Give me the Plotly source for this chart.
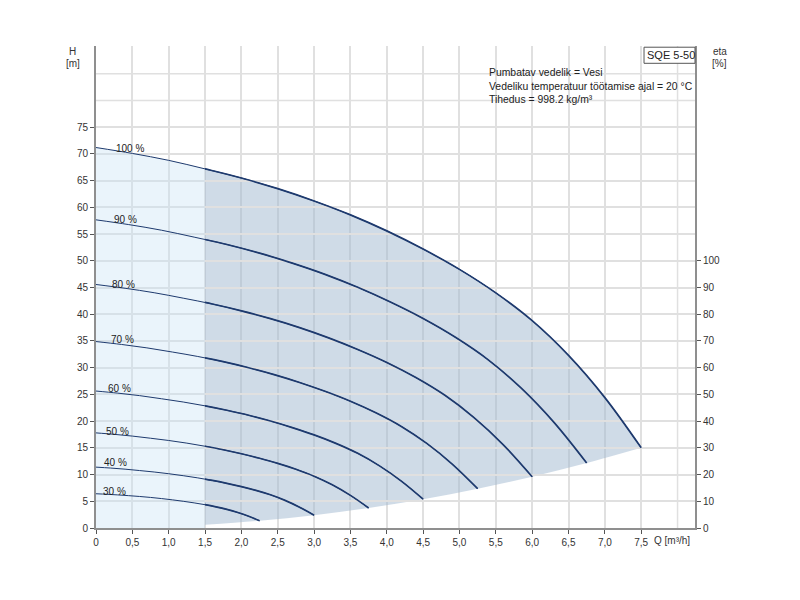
import plotly.graph_objects as go

# ---------------- data ----------------
q100 = [0, 0.5, 1.0, 1.5, 2.0, 2.5, 3.0, 3.5, 4.0, 4.5, 5.0, 5.5, 6.0, 6.5, 7.0, 7.5]
h100 = [71.2, 70.1, 68.8, 67.2, 65.5, 63.5, 61.2, 58.6, 55.6, 52.2, 48.4, 44.0, 38.8, 32.3, 24.4, 15.0]

q90 = [0, 0.45, 0.9, 1.35, 1.8, 2.25, 2.7, 3.15, 3.6, 4.05, 4.5, 4.95, 5.4, 5.85, 6.3, 6.75]
h90 = [57.67, 56.78, 55.73, 54.43, 53.06, 51.44, 49.57, 47.47, 45.04, 42.28, 39.20, 35.64, 31.43, 26.16, 19.76, 12.15]

q80 = [0, 0.4, 0.8, 1.2, 1.6, 2.0, 2.4, 2.8, 3.2, 3.6, 4.0, 4.4, 4.8, 5.2, 5.6, 6.0]
h80 = [45.57, 44.86, 44.03, 43.01, 41.92, 40.64, 39.17, 37.50, 35.58, 33.41, 30.98, 28.16, 24.83, 20.67, 15.62, 9.60]

q70 = [0, 0.35, 0.7, 1.05, 1.4, 1.75, 2.1, 2.45, 2.8, 3.15, 3.5, 3.85, 4.2, 4.55, 4.9, 5.25]
h70 = [34.89, 34.35, 33.71, 32.93, 32.10, 31.12, 29.99, 28.71, 27.24, 25.58, 23.72, 21.56, 19.01, 15.83, 11.96, 7.35]

q60 = [0, 0.3, 0.6, 0.9, 1.2, 1.5, 1.8, 2.1, 2.4, 2.7, 3.0, 3.3, 3.6, 3.9, 4.2, 4.5]
h60 = [25.63, 25.24, 24.77, 24.19, 23.58, 22.86, 22.03, 21.10, 20.02, 18.79, 17.42, 15.84, 13.97, 11.63, 8.78, 5.40]

q50 = [0, 0.25, 0.5, 0.75, 1.0, 1.25, 1.5, 1.75, 2.0, 2.25, 2.5, 2.75, 3.0, 3.25, 3.5, 3.75]
h50 = [17.80, 17.53, 17.20, 16.80, 16.38, 15.88, 15.30, 14.65, 13.90, 13.05, 12.10, 11.00, 9.70, 8.08, 6.10, 3.75]

q40 = [0, 0.2, 0.4, 0.6, 0.8, 1.0, 1.2, 1.4, 1.6, 1.8, 2.0, 2.2, 2.4, 2.6, 2.8, 3.0]
h40 = [11.39, 11.22, 11.01, 10.75, 10.48, 10.16, 9.79, 9.38, 8.90, 8.35, 7.74, 7.04, 6.21, 5.17, 3.90, 2.40]

q30 = [0, 0.15, 0.3, 0.45, 0.6, 0.75, 0.9, 1.05, 1.2, 1.35, 1.5, 1.65, 1.8, 1.95, 2.1, 2.25]
h30 = [6.41, 6.31, 6.19, 6.05, 5.90, 5.72, 5.51, 5.27, 5.00, 4.70, 4.36, 3.96, 3.49, 2.91, 2.20, 1.35]

# lower boundary of the operating range (ends of the speed curves)
bound_q = [1.5, 2.25, 3.0, 3.75, 4.5, 5.25, 6.0, 6.75, 7.5]
bound_h = [0.6, 1.35, 2.4, 3.75, 5.4, 7.35, 9.6, 12.15, 15.0]

speed_labels = ["100 %", "90 %", "80 %", "70 %", "60 %", "50 %", "40 %", "30 %"]
curves = [(q100, h100), (q90, h90), (q80, h80), (q70, h70),
          (q60, h60), (q50, h50), (q40, h40), (q30, h30)]

x_tickvals = [0, 0.5, 1.0, 1.5, 2.0, 2.5, 3.0, 3.5, 4.0, 4.5, 5.0, 5.5, 6.0, 6.5, 7.0, 7.5]
x_ticktext = ["0", "0,5", "1,0", "1,5", "2,0", "2,5", "3,0", "3,5", "4,0", "4,5",
              "5,0", "5,5", "6,0", "6,5", "7,0", "7,5"]
y_tickvals = [0, 5, 10, 15, 20, 25, 30, 35, 40, 45, 50, 55, 60, 65, 70, 75]
eta_tickvals = [0, 10, 20, 30, 40, 50, 60, 70, 80, 90, 100]

info_lines = ["Pumbatav vedelik = Vesi",
              "Vedeliku temperatuur töötamise ajal = 20 °C",
              "Tihedus = 998.2 kg/m³"]

# ---------------- styling / layout parameters ----------------
XMAX = 8.24
YMAX = 90.2
Q_SPLIT = 1.5
LINE = "#1e3a6e"
FONT = "Liberation Sans, Arial, sans-serif"
GRID = "#e0e0e0"
AXIS = "#8f8f8f"

label_pos = [(0.47, 71.1), (0.41, 57.8), (0.38, 45.6), (0.36, 35.2),
             (0.33, 26.2), (0.30, 18.1), (0.27, 12.2), (0.25, 6.9)]

fig = go.Figure()

# light region (Q < 1.5)
fig.add_trace(go.Scatter(x=q100[:4], y=h100[:4], mode="lines", fill="tozeroy",
                         line=dict(shape="spline", width=0, color="rgba(0,0,0,0)"),
                         fillcolor="rgba(200,225,245,0.38)", hoverinfo="skip"))
# operating region (Q >= 1.5): between boundary and 100 % curve
fig.add_trace(go.Scatter(x=bound_q, y=bound_h, mode="lines",
                         line=dict(shape="spline", width=0, color="rgba(0,0,0,0)"),
                         hoverinfo="skip"))
fig.add_trace(go.Scatter(x=q100[3:], y=h100[3:], mode="lines", fill="tonexty",
                         line=dict(shape="spline", width=0, color="rgba(0,0,0,0)"),
                         fillcolor="rgba(160,184,207,0.5)", hoverinfo="skip"))

# thin curves on the main axis
for q, h in curves:
    fig.add_trace(go.Scatter(x=q, y=h, mode="lines",
                             line=dict(color=LINE, width=1, shape="spline"),
                             hoverinfo="skip"))
# thick part (Q >= 1.5) on a clipped axis with identical scale
for q, h in curves:
    fig.add_trace(go.Scatter(x=q, y=h, mode="lines",
                             line=dict(color=LINE, width=1.7, shape="spline"),
                             xaxis="x2", yaxis="y", hoverinfo="skip"))

# invisible trace to activate the eta axis
fig.add_trace(go.Scatter(x=[0], y=[0], yaxis="y2", mode="markers",
                         marker=dict(opacity=0), hoverinfo="skip"))

split_frac = Q_SPLIT / XMAX

fig.update_layout(
    width=800, height=600,
    margin=dict(l=96, r=105, t=46, b=72),
    paper_bgcolor="white", plot_bgcolor="rgba(0,0,0,0)",
    showlegend=False,
    font=dict(family=FONT, size=10, color="#333333"),
    xaxis=dict(range=[0, XMAX], domain=[0, 1], tickvals=x_tickvals, ticktext=x_ticktext,
               showgrid=True, gridcolor=GRID, gridwidth=1.5, zeroline=False,
               showline=True, linecolor=AXIS, linewidth=2,
               ticks="outside", ticklen=4, tickcolor="#555555",
               tickfont=dict(size=10, color="#333333")),
    xaxis2=dict(range=[Q_SPLIT, XMAX], domain=[split_frac, 1], anchor="y",
                visible=False, showgrid=False, zeroline=False),
    yaxis=dict(range=[0, YMAX], tickvals=y_tickvals,
               showgrid=True, gridcolor=GRID, gridwidth=1.5, zeroline=False,
               showline=True, linecolor=AXIS, linewidth=2,
               ticks="outside", ticklen=4, tickcolor="#555555",
               tickfont=dict(size=10, color="#333333")),
    yaxis2=dict(range=[0, 2 * YMAX], overlaying="y", side="right", tickvals=eta_tickvals,
                showgrid=False, zeroline=False, showline=True, linecolor=AXIS, linewidth=2,
                ticks="outside", ticklen=4, tickcolor="#555555",
                tickfont=dict(size=10, color="#333333")),
)

# extra grid lines without tick labels
shapes = []
for yv in [80, 85]:
    shapes.append(dict(type="line", xref="x", yref="y", x0=0, x1=XMAX, y0=yv, y1=yv,
                       line=dict(color=GRID, width=1.5), layer="below"))
shapes.append(dict(type="line", xref="x", yref="y", x0=8.0, x1=8.0, y0=0, y1=YMAX,
                   line=dict(color=GRID, width=1.5), layer="below"))
# model box
shapes.append(dict(type="rect", xref="paper", yref="paper", x0=0.9149, x1=1.0,
                   y0=0.9641, y1=0.9975, line=dict(color="#555555", width=1),
                   fillcolor="white", layer="above"))
fig.update_layout(shapes=shapes)

ann = []
for text, (lx, ly) in zip(speed_labels, label_pos):
    ann.append(dict(x=lx, y=ly, xref="x", yref="y", text=text, showarrow=False,
                    xanchor="center", yanchor="middle", font=dict(size=10, color="#222222")))
ann.append(dict(x=0.9599, y=0.981, xref="paper", yref="paper", text="SQE 5-50",
                showarrow=False, xanchor="center", yanchor="middle",
                font=dict(size=11, color="#222222")))
for i, t in enumerate(info_lines):
    ann.append(dict(x=0.653, y=[0.944, 0.915, 0.888][i], xref="paper", yref="paper",
                    text=t, showarrow=False, xanchor="left", yanchor="middle",
                    font=dict(size=10.4, color="#222222")))
ann.append(dict(x=-0.0384, y=0.9876, xref="paper", yref="paper", text="H",
                showarrow=False, xanchor="center", yanchor="middle", font=dict(size=10)))
ann.append(dict(x=-0.0384, y=0.9627, xref="paper", yref="paper", text="[m]",
                showarrow=False, xanchor="center", yanchor="middle", font=dict(size=10)))
ann.append(dict(x=1.0417, y=0.9876, xref="paper", yref="paper", text="eta",
                showarrow=False, xanchor="center", yanchor="middle", font=dict(size=10)))
ann.append(dict(x=1.0417, y=0.9627, xref="paper", yref="paper", text="[%]",
                showarrow=False, xanchor="center", yanchor="middle", font=dict(size=10)))
ann.append(dict(x=0.9282, y=-0.025, xref="paper", yref="paper", text="Q [m³/h]",
                showarrow=False, xanchor="left", yanchor="middle", font=dict(size=10)))
fig.update_layout(annotations=ann)

fig.write_html("out.html", config={"displayModeBar": False},
               post_script="document.body.style.margin='0';")
